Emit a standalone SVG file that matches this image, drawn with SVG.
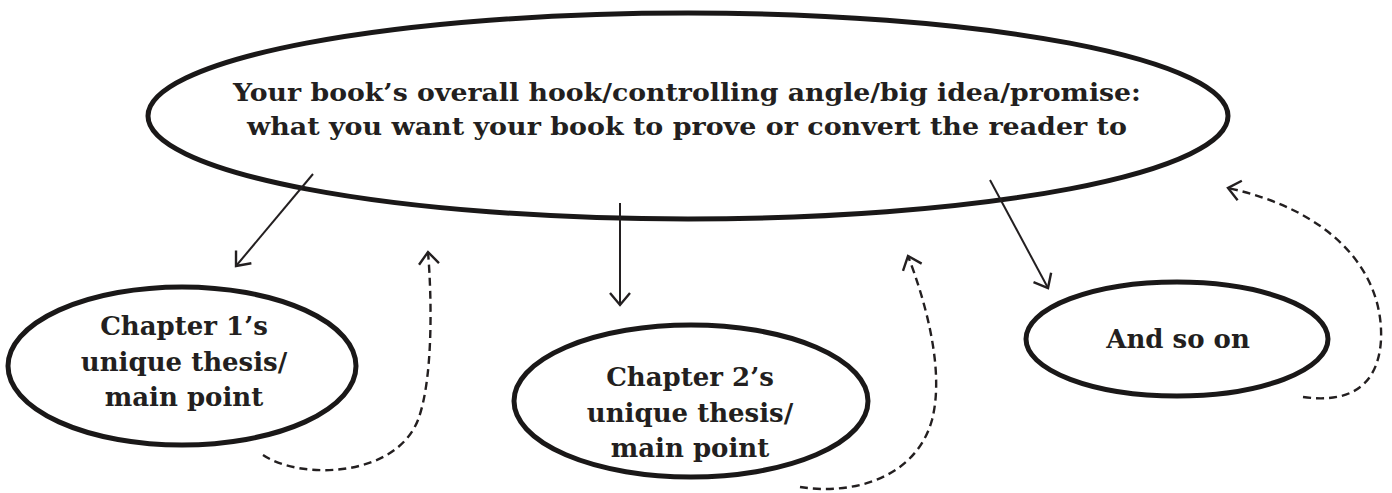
<svg xmlns="http://www.w3.org/2000/svg" width="1392" height="493" viewBox="0 0 1392 493">
<style>
.node ellipse{fill:none;stroke:#1a1818;stroke-width:5}
.lbl{font-family:"DejaVu Serif","Liberation Serif",serif;font-weight:bold;fill:#231f20;text-anchor:middle}
.main{font-size:25px}
.sub{font-size:26px}
.solid{fill:none;stroke:#231f20;stroke-width:2}
.dash{fill:none;stroke:#231f20;stroke-width:2.4;stroke-dasharray:8 5}
</style>
<defs>
<marker id="ah" markerUnits="userSpaceOnUse" markerWidth="30" markerHeight="30" viewBox="-15 -15 30 30" refX="0" refY="0" orient="auto">
<path d="M-12,-10 L0,0 L-12,10" fill="none" stroke="#231f20" stroke-width="2.4" stroke-dasharray="none"/>
</marker>
</defs>
<rect width="1392" height="493" fill="#fff"/>
<g id="main-node" class="node">
<ellipse cx="688" cy="116" rx="540" ry="103"/>
<text class="lbl main" x="687" y="101" textLength="908" lengthAdjust="spacingAndGlyphs">Your book’s overall hook/controlling angle/big idea/promise:</text>
<text class="lbl main" x="687" y="135" textLength="880" lengthAdjust="spacingAndGlyphs">what you want your book to prove or convert the reader to</text>
</g>
<g id="chapter1" class="node">
<ellipse cx="182" cy="366" rx="174" ry="79"/>
<text class="lbl sub" x="184" y="335">Chapter 1’s</text>
<text class="lbl sub" x="184" y="371">unique thesis/</text>
<text class="lbl sub" x="184" y="406">main point</text>
</g>
<g id="chapter2" class="node">
<ellipse cx="691" cy="401" rx="177" ry="76"/>
<text class="lbl sub" x="690" y="386">Chapter 2’s</text>
<text class="lbl sub" x="690" y="422">unique thesis/</text>
<text class="lbl sub" x="690" y="457">main point</text>
</g>
<g id="and-so-on" class="node">
<ellipse cx="1177" cy="339" rx="151" ry="57"/>
<text class="lbl sub" x="1178" y="348">And so on</text>
</g>
<g id="connectors">
<line class="solid" x1="313" y1="174" x2="236" y2="266" marker-end="url(#ah)"/>
<line class="solid" x1="620" y1="203" x2="620" y2="305" marker-end="url(#ah)"/>
<line class="solid" x1="990" y1="180" x2="1048" y2="288" marker-end="url(#ah)"/>
<path class="dash" d="M263,455 C300,480 395,478 418,420 C433,380 432,300 428,252" marker-end="url(#ah)"/>
<path class="dash" d="M800,487 C850,495 915,480 932,420 C945,370 925,300 908,256" marker-end="url(#ah)"/>
<path class="dash" d="M1303,397 C1345,403 1378,390 1381,340 C1384,270 1330,210 1228,188" marker-end="url(#ah)"/>
</g>
</svg>
